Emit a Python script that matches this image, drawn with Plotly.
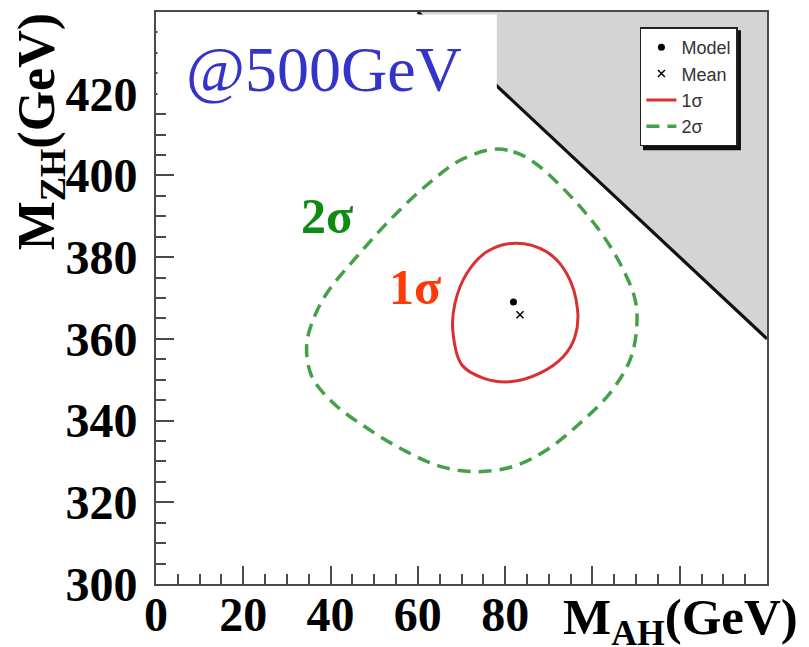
import plotly.graph_objects as go

# ---------------- data (GeV) ----------------
# 1-sigma contour in the (M_AH, M_ZH) plane
sig1_mah = [82.3, 89.5, 94.1, 96.6, 96.0, 93.3, 88.0, 81.1, 75.0, 70.1, 68.0, 68.5, 71.2, 75.8]
sig1_mzh = [383.4, 381.3, 376.0, 367.1, 360.5, 355.6, 351.6, 349.5, 350.4, 353.6, 362.2, 368.7, 376.0, 381.3]

# 2-sigma contour
sig2_mah = [77.3, 81.9, 86.5, 93.3, 101.0, 106.3, 109.8, 110.1, 108.6, 104.0, 97.2, 89.5, 81.9,
            73.5, 65.1, 57.4, 49.0, 40.6, 35.7, 34.5, 35.7, 39.1, 46.0, 53.6, 62.0, 69.7]
sig2_mzh = [406.4, 405.8, 403.3, 396.8, 387.4, 378.5, 369.5, 362.2, 354.8, 346.7, 339.4, 332.8, 328.8,
            327.5, 328.8, 332.4, 337.7, 344.3, 350.8, 358.1, 363.8, 371.1, 380.1, 389.1, 397.6, 403.7]

# model point and fitted mean
model_mah = [81.9]
model_mzh = [369.0]
mean_mah = [83.4]
mean_mzh = [365.9]

# kinematic limit M_AH + M_ZH = 500 GeV (excluded region)
limit_mah = [60, 140, 140]
limit_mzh = [440, 360, 440]

# axes
x_range = [0, 140]
y_range = [300, 440]
x_tickvals = [0, 20, 40, 60, 80, 100, 120, 140]
x_ticktext = ["0", "20", "40", "60", "80", "", "", ""]
y_tickvals = [300, 320, 340, 360, 380, 400, 420, 440]
y_ticktext = ["300", "320", "340", "360", "380", "400", "420", ""]

SERIF = "Liberation Serif, Times New Roman, serif"
SANS = "Liberation Sans, Arial, sans-serif"
AXC = "#4a4a4a"

fig = go.Figure()

# excluded region
fig.add_trace(go.Scatter(x=limit_mah, y=limit_mzh, fill="toself", fillcolor="#d4d4d4",
                         mode="lines", line=dict(width=0), showlegend=False, hoverinfo="skip"))
fig.add_trace(go.Scatter(x=limit_mah[:2], y=limit_mzh[:2], mode="lines",
                         line=dict(color="#111111", width=3.2), showlegend=False, hoverinfo="skip"))

# contours (closed splines)
fig.add_trace(go.Scatter(x=sig2_mah + sig2_mah[:1], y=sig2_mzh + sig2_mzh[:1], mode="lines",
                         line=dict(color="#45a04a", width=3.5, dash="13px,8px", shape="spline"),
                         name="2σ", legendgroup="d", legendrank=4))
fig.add_trace(go.Scatter(x=sig1_mah + sig1_mah[:1], y=sig1_mzh + sig1_mzh[:1], mode="lines",
                         line=dict(color="#d93030", width=3, shape="spline"),
                         name="1σ", legendgroup="c", legendrank=3))

fig.add_trace(go.Scatter(x=model_mah, y=model_mzh, mode="markers",
                         marker=dict(symbol="circle", size=7, color="black"),
                         name="Model", legendgroup="a", legendrank=1))
fig.add_trace(go.Scatter(x=mean_mah, y=mean_mzh, mode="markers",
                         marker=dict(symbol="x-thin", size=7, line=dict(width=1.5, color="black"), color="black"),
                         name="Mean", legendgroup="b", legendrank=2))

# white text box of the "@500GeV" label
fig.add_shape(type="rect", xref="x", yref="y", x0=0.35, x1=78.1, y0=419.1, y1=439.4,
              fillcolor="white", line=dict(width=0), layer="above")
# drop shadow of the legend box
fig.add_shape(type="rect", xref="paper", yref="paper", x0=0.797, x1=0.9574, y0=0.7585, y1=0.968,
              fillcolor="#111111", line=dict(width=0), layer="above")

fig.add_annotation(text="@500GeV", xref="paper", yref="paper", x=0.275, y=0.900,
                   xanchor="center", yanchor="middle", showarrow=False,
                   font=dict(family=SERIF, size=64, color="#3434c8"))
fig.add_annotation(text="2σ", xref="x", yref="y", x=39.2, y=390.0, showarrow=False,
                   xanchor="center", yanchor="middle",
                   font=dict(family=SERIF, size=50, color="#0f8a12", weight="bold"))
fig.add_annotation(text="1σ", xref="x", yref="y", x=59.3, y=372.8, showarrow=False,
                   xanchor="center", yanchor="middle",
                   font=dict(family=SERIF, size=50, color="#ff3a0a", weight="bold"))

# axis titles
fig.add_annotation(text="M<sub>AH</sub>(GeV)", xref="paper", yref="paper", x=0.859, y=-0.064,
                   xanchor="center", yanchor="middle", showarrow=False, borderpad=0,
                   font=dict(family=SERIF, size=51, color="black", weight="bold"))
fig.add_annotation(text="M<sub>ZH</sub>(GeV)", xref="paper", yref="paper", x=-0.1895, y=0.790,
                   xanchor="center", yanchor="middle", showarrow=False, textangle=-90,
                   font=dict(family=SERIF, size=52, color="black", weight="bold"))

axis_common = dict(showline=True, linecolor=AXC, linewidth=1.6, mirror=True,
                   ticks="inside", ticklen=18, tickwidth=1.5, tickcolor=AXC,
                   showgrid=False, zeroline=False, automargin=False,
                   tickfont=dict(family=SERIF, size=48, color="black", weight="bold"),
                   minor=dict(ticks="inside", ticklen=10, tickwidth=1.5, tickcolor=AXC,
                              dtick=5, tick0=0, showgrid=False))

fig.update_xaxes(range=x_range, tickmode="array", tickvals=x_tickvals, ticktext=x_ticktext,
                 ticklabelstandoff=-12, **axis_common)
fig.update_yaxes(range=y_range, tickmode="array", tickvals=y_tickvals, ticktext=y_ticktext,
                 ticklabelstandoff=7, **axis_common)

# page body adds an 8 px offset: figure is 801x639 so it fills the 809x647 window
fig.update_layout(
    width=801, height=639,
    margin=dict(l=148, r=42, t=4, b=63, autoexpand=False),
    paper_bgcolor="white", plot_bgcolor="white",
    showlegend=True,
    legend=dict(x=0.792, y=0.973, xanchor="left", yanchor="top",
                bgcolor="white", bordercolor="#222222", borderwidth=1.5,
                font=dict(family=SANS, size=18, color="#333333"),
                tracegroupgap=0, itemwidth=30),
)

fig.write_html("out.html")
